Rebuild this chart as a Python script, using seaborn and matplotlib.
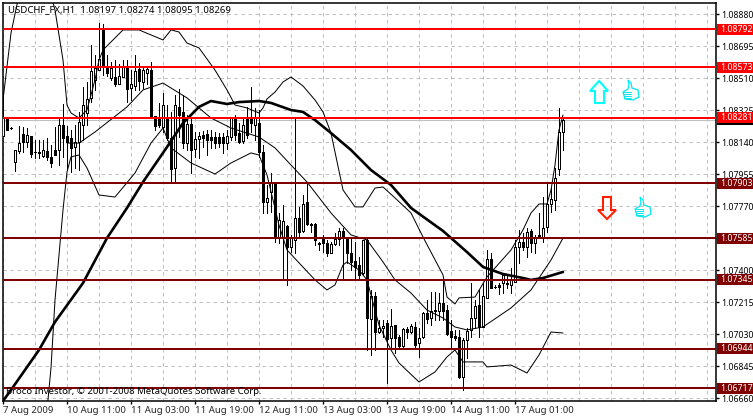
import numpy as np
import pandas as pd
import matplotlib
matplotlib.use("Agg")
import matplotlib.pyplot as plt
from matplotlib.patches import Polygon, Rectangle
from matplotlib.transforms import Affine2D
import seaborn as sns

# hourly candles, prices in 1e-5 units
opens = [108175,108285,108221,108025,108088,108186,108140,108175,108082,108082,
         108059,108088,108054,108094,108094,108238,108175,108163,108111,108140,
         108238,108308,108395,108499,108556,108793,108574,108510,108516,108475,
         108516,108568,108452,108464,108562,108487,108539,108556,108291,108273,
         108227,108285,108163,107990,108343,108314,108134,108244,108100,108158,
         108181,108186,108169,108169,108169,108169,108134,108169,108279,108192,
         108146,108279,108279,108238,108250,108082,
         107793,107851,107909,107591,107585,107655,107533,107574,107701,107626,
         107793,107666,107666,107556,107580,107556,107499,107551,107580,107626,
         107580,107499,107452,107429,107383,107574,107117,107250,107042,107065,
         107094,107007,107082,107013,106961,107059,107042,107071,106978,107013,
         107152,107123,107169,107163,107210,107169,107048,107019,107013,106782,
         106996,107054,107123,107198,107071,107239,107464,107302,107314,107325,
         107319,107314,107331,107533,107562,107533,107626,107556,107597,107591,
         107649,107782,107805,107984,108197]
highs = [108400,108285,108227,108094,108233,108227,108221,108175,108152,108152,
         108152,108163,108123,108227,108273,108360,108233,108210,108238,108314,
         108458,108487,108701,108643,108828,108822,108643,108603,108614,108591,
         108614,108614,108556,108643,108597,108568,108568,108603,108291,108366,
         108423,108354,108314,108412,108447,108412,108296,108285,108198,108198,
         108204,108210,108210,108198,108192,108192,108210,108285,108296,108250,
         108285,108343,108458,108337,108325,108123,
         107892,107961,107909,107730,107776,107660,107603,108279,107765,107834,
         107903,107672,107672,107562,107603,107574,107562,107614,107643,107643,
         107585,107585,107562,107476,107574,107585,107285,107273,107111,107111,
         107111,107175,107082,107025,107065,107071,107088,107100,107065,107158,
         107227,107273,107273,107267,107343,107198,107111,107054,107054,107007,
         107065,107325,107227,107285,107325,107516,107499,107314,107325,107383,
         107372,107412,107574,107632,107614,107643,107637,107603,107730,107822,
         107903,107874,107990,108337,108274]
lows = [108175,108210,108215,107973,108077,108082,108111,108054,108048,108048,
        108054,108036,107996,108065,108007,108054,107978,107967,107990,107978,
        108152,108238,108371,108441,108556,108527,108522,108499,108464,108475,
        108516,108371,108383,108441,108441,108452,108475,108291,108210,108227,
        108198,108152,107909,107909,108169,108106,108094,107961,108054,108048,
        108111,108065,108106,108106,108111,108077,108100,108152,108152,108134,
        108134,108163,108198,108152,108054,107730,
        107730,107736,107562,107556,107354,107314,107504,107499,107591,107620,
        107660,107620,107545,107516,107504,107481,107499,107545,107545,107343,
        107441,107400,107354,107343,107372,106938,106909,106938,107036,107013,
        106747,106950,106921,106950,106955,107007,107036,106950,106898,107007,
        107094,107082,107111,107111,107111,107025,106955,106996,106776,106707,
        106892,107013,107065,107013,107071,107239,107296,107296,107262,107267,
        107296,107267,107331,107441,107516,107476,107504,107499,107591,107562,
        107620,107736,107747,107950,108095]
closes = [108285,108210,108221,108094,108134,108140,108181,108071,108082,108077,
          108094,108054,108019,108065,108238,108163,108140,108106,108140,108256,
          108354,108389,108551,108568,108620,108574,108539,108568,108475,108522,
          108574,108447,108475,108551,108493,108556,108562,108291,108233,108238,
          108354,108163,107984,108354,108296,108134,108244,108094,108158,108175,
          108163,108152,108152,108134,108134,108134,108175,108279,108181,108140,
          108238,108181,108250,108279,108082,107793,
          107817,107903,107585,107689,107684,107533,107585,107701,107620,107782,
          107666,107660,107574,107551,107556,107499,107551,107580,107626,107585,
          107499,107447,107418,107372,107574,107123,107250,107042,107065,107077,
          107002,107077,107007,106961,107059,107042,107077,106967,107007,107152,
          107117,107163,107163,107210,107163,107031,107013,107007,106782,106996,
          107048,107123,107192,107071,107250,107464,107296,107302,107302,107372,
          107325,107343,107533,107562,107533,107620,107556,107591,107603,107643,
          107782,107811,107932,108198,108269]

# indicators: bar number and price at the points
upper_bars = [0,2,4,7,10,12,13,15,16,17,19,21,23,24,25,30,34,40,42,44,46,49,53,56,58,61,64,65,66,68,70,72,75,78,
              80,82,85,88,90,93,95,98,102,105,110,111,113,114,118,121,127,130,132,134,136,137,138,139,140]
upper_vals = [108383,108770,108990,109192,109134,108990,108903,108614,108354,108308,108279,108325,108499,108614,108672,
              108788,108788,108730,108788,108776,108712,108684,108556,108441,108354,108337,108308,108337,108389,108429,
              108487,108516,108464,108383,108314,108192,107863,107765,107765,107874,107880,107817,107730,107591,107372,
              107244,107204,107239,107244,107360,107516,107632,107730,107782,107782,107863,108007,108210,108296]
middle_bars = [16,19,23,31,35,40,46,52,57,64,68,72,76,82,87,91,95,98,102,106,110,113,116,120,127,132,137,140]
middle_vals = [108134,108134,108198,108343,108441,108481,108395,108279,108221,108169,108106,108007,107909,107730,
               107603,107574,107447,107343,107267,107169,107123,107071,107054,107071,107181,107285,107458,107585]
lower_bars = [11,12,13,15,16,17,19,21,24,28,33,37,40,42,47,53,57,62,64,66,69,71,78,81,83,85,86,89,91,94,97,99,
              104,108,111,113,115,120,121,127,131,134,137,140]
lower_vals = [106591,106834,107227,107747,107967,108054,108065,107990,107834,107822,107961,108134,108221,108106,
              108019,107955,108019,108077,108065,107950,107660,107516,107343,107285,107314,107429,107447,107400,
              107343,107082,106938,106863,106753,106811,106898,106938,106869,106869,106840,106851,106805,106909,
              107042,107036]
ma_bars = [0,2,9,13,20,26,31,35,41,45,49,52,56,59,64,67,72,75,78,82,87,92,97,102,110,116,120,125,130,132,135,140]
ma_vals = [106643,106707,106938,107100,107325,107585,107759,107909,108111,108250,108343,108377,108360,108371,
           108377,108366,108325,108314,108267,108192,108094,107978,107892,107759,107626,107504,107418,107377,
           107354,107343,107354,107389]

resistance = [1.08792, 1.08573, 1.08281]
support = [1.07903, 1.07585, 1.07345, 1.06944, 1.06717]
last_price = 1.08269
price_ticks = [1.06660, 1.06845, 1.07030, 1.07215, 1.07400, 1.07585, 1.07770,
               1.07955, 1.08140, 1.08325, 1.08510, 1.08695, 1.08880]
time_ticks = [0, 16, 32, 48, 64, 80, 96, 112, 128]
time_labels = ["7 Aug 2009", "10 Aug 11:00", "11 Aug 03:00", "11 Aug 19:00", "12 Aug 11:00",
               "13 Aug 03:00", "13 Aug 19:00", "14 Aug 11:00", "17 Aug 01:00"]

sns.set_style("white")
plt.rcParams["font.family"] = ["Noto Sans", "DejaVu Sans"]
plt.rcParams["font.size"] = 6.9
price_font = 6.3

df = pd.DataFrame({"o": opens, "h": highs, "l": lows, "c": closes}) / 1e5
df["bar"] = df.index

fig = plt.figure(figsize=(7.53, 4.17), dpi=100)
W, H = 753, 417
ax = fig.add_axes([2.5 / W, 1 - 400.5 / H, 713.5 / W, 398 / H])
px = Affine2D().scale(1 / W, -1 / H).translate(0, 1) + fig.transFigure

# one pixel is 0.0000578 in price and a quarter of a bar
ax.set_xlim(-0.125, 178.25)
ax.set_ylim(1.06646, 1.089465)
one_px = 0.00185 / 32

ax.set_xticks(time_ticks)
ax.set_xticklabels(time_labels, ha="left")
ax.set_xticks(np.arange(8, 178, 8), minor=True)
ax.set_yticks(price_ticks)
ax.set_yticklabels([f"{p:.5f}" for p in price_ticks])
ax.yaxis.tick_right()
ax.tick_params(axis="y", length=2, width=1, color="black", pad=1.4, left=False, right=True,
               labelcolor="black", labelsize=price_font)
ax.tick_params(axis="x", which="major", length=2, width=1, color="black", pad=2, bottom=True)
ax.tick_params(axis="x", which="minor", length=0)
ax.grid(True, which="both", color="#c0c0c0", linestyle=(0, (3.5, 3.5)), linewidth=0.72)
ax.set_axisbelow(True)
for s in ax.spines.values():
    s.set_color("black")
    s.set_linewidth(1.1)

# candles
up = df[df.c >= df.o]
down = df[df.c < df.o]
ax.vlines(df.bar, df.l, df.h, color="black", linewidth=0.7, zorder=3, antialiased=False)
ax.bar(up.bar, up.c - up.o, bottom=up.o, width=0.5, facecolor="white", edgecolor="black",
       linewidth=0.7, zorder=3.1, antialiased=False)
ax.bar(down.bar, down.c - down.o, bottom=down.o, width=0.5, facecolor="black", edgecolor="black",
       linewidth=0.7, zorder=3.1, antialiased=False)

# bands and the moving average
for bars, vals, lw in [(upper_bars, upper_vals, 0.72), (middle_bars, middle_vals, 0.72),
                       (lower_bars, lower_vals, 0.72), (ma_bars, ma_vals, 1.9)]:
    sns.lineplot(x=bars, y=np.array(vals) / 1e5, ax=ax, color="black", linewidth=lw,
                 estimator=None, sort=False, legend=False, zorder=4)
ax.set_xlabel("")
ax.set_ylabel("")

# levels with their price boxes on the right
ax.axhline(last_price, color="#c0c0c0", linewidth=0.8, zorder=2)
box_tr = ax.get_yaxis_transform()
ax.add_patch(Rectangle((1.0015, last_price - 5.5 * one_px), 0.06, 11 * one_px, transform=box_tr,
                       facecolor="black", edgecolor="none", clip_on=False, zorder=6))
for prices, colour in [(resistance, "#ff0000"), (support, "#800000")]:
    for p in prices:
        ax.axhline(p, color=colour, linewidth=1.44, zorder=5)
        ax.add_patch(Rectangle((1.0015, p - 5.5 * one_px), 0.06, 11 * one_px, transform=box_tr,
                               facecolor=colour, edgecolor="none", clip_on=False, zorder=6))
        ax.text(1.0065, p, f"{p:.5f}", transform=box_tr, color="white", va="center", ha="left",
                fontsize=price_font, clip_on=False, zorder=7)

# text on the chart
ax.text(8, 10, "USDCHF_FX,H1  1.08197 1.08274 1.08095 1.08269", transform=px,
        color="black", va="center", ha="left", zorder=8)
ax.text(6, 392, "Broco Investor, \u00a9 2001-2008 MetaQuotes Software Corp.", transform=px,
        color="black", va="center", ha="left", zorder=8)

# arrows and thumbs (no installed font has the thumb sign)
up_arrow = [(599, 81), (608, 91), (604, 91), (604, 103), (595, 103), (595, 91), (590, 91)]
down_arrow = [(603, 197), (611, 197), (611, 210), (616, 210), (607, 219), (598, 210), (603, 210)]
ax.add_patch(Polygon(up_arrow, closed=True, transform=px, fill=False, edgecolor="#00ffff",
                     linewidth=1.5, clip_on=False, zorder=8))
ax.add_patch(Polygon(down_arrow, closed=True, transform=px, fill=False, edgecolor="#ff2000",
                     linewidth=1.5, clip_on=False, zorder=8))
thumb = np.array([(628, 80), (631, 83), (632, 88), (638, 90), (639, 97), (633, 100), (625, 99),
                  (623, 92), (628, 89), (629, 85)])
for dx, dy in [(0, 0), (12, 117)]:
    ax.add_patch(Polygon(thumb + (dx, dy), closed=True, transform=px, fill=False, edgecolor="#00e8f0",
                         linewidth=0.9, clip_on=False, zorder=8))
    for fy in (92, 94, 96, 98):
        ax.plot([624 + dx, 631 + dx], [fy + dy, fy + dy], transform=px, color="#00e8f0", linewidth=0.7,
                clip_on=False, zorder=8)

fig.savefig("out.png", dpi=100)
